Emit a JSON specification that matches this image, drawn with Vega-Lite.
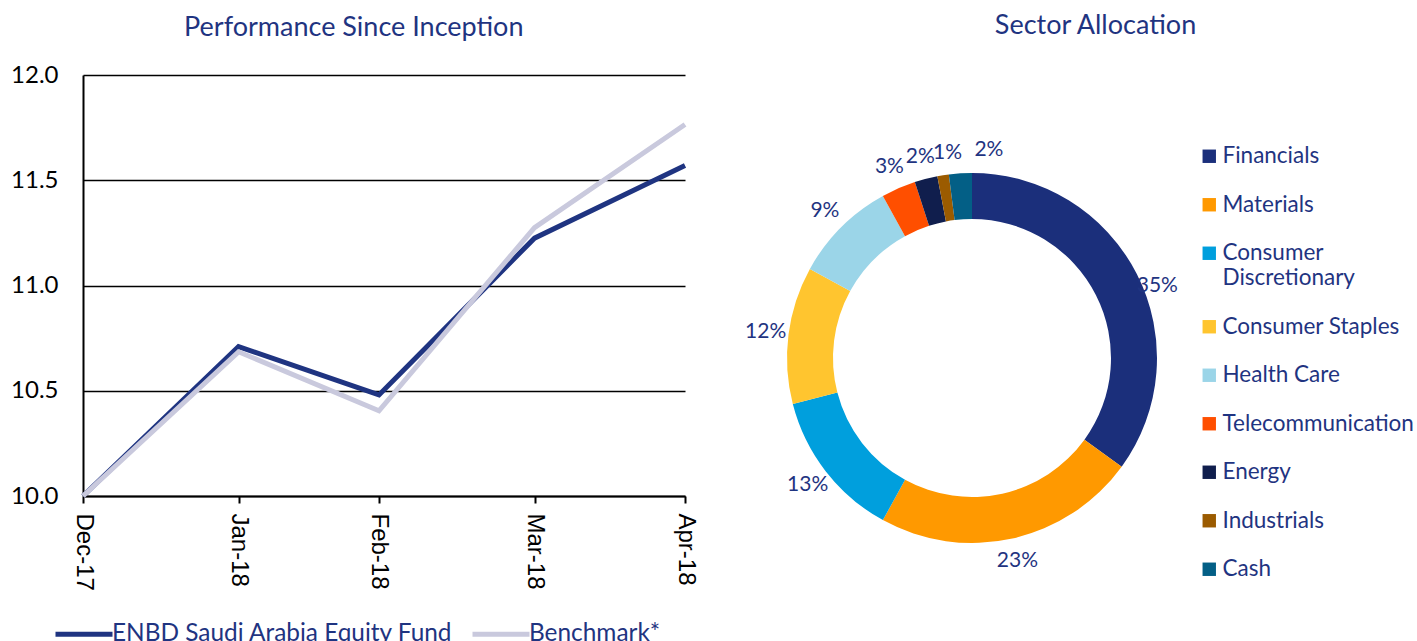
{
  "$schema": "https://vega.github.io/schema/vega-lite/v6.json",
  "background": "white",
  "padding": {"left": 10, "top": 12, "right": 0, "bottom": 0},
  "autosize": {"type": "pad"},
  "bounds": "flush",
  "spacing": 102,
  "config": {
    "font": "Lato",
    "view": {"stroke": null},
    "title": {"font": "Lato", "fontSize": 27, "fontWeight": "normal", "color": "#1F3481"}
  },
  "datasets": {
    "perf": [
      {"date": "2017-12-31", "series": "ENBD Saudi Arabia Equity Fund", "value": 10.0},
      {"date": "2018-01-31", "series": "ENBD Saudi Arabia Equity Fund", "value": 10.71},
      {"date": "2018-02-28", "series": "ENBD Saudi Arabia Equity Fund", "value": 10.48},
      {"date": "2018-03-31", "series": "ENBD Saudi Arabia Equity Fund", "value": 11.225},
      {"date": "2018-04-30", "series": "ENBD Saudi Arabia Equity Fund", "value": 11.57},
      {"date": "2017-12-31", "series": "Benchmark*", "value": 10.0},
      {"date": "2018-01-31", "series": "Benchmark*", "value": 10.685},
      {"date": "2018-02-28", "series": "Benchmark*", "value": 10.405},
      {"date": "2018-03-31", "series": "Benchmark*", "value": 11.275},
      {"date": "2018-04-30", "series": "Benchmark*", "value": 11.765}
    ],
    "sectors": [
      {"sector": "Financials", "pct": 0.35, "order": 1},
      {"sector": "Materials", "pct": 0.23, "order": 2},
      {"sector": "Consumer Discretionary", "pct": 0.13, "order": 3},
      {"sector": "Consumer Staples", "pct": 0.12, "order": 4},
      {"sector": "Health Care", "pct": 0.09, "order": 5},
      {"sector": "Telecommunication", "pct": 0.03, "order": 6},
      {"sector": "Energy", "pct": 0.02, "order": 7},
      {"sector": "Industrials", "pct": 0.01, "order": 8},
      {"sector": "Cash", "pct": 0.02, "order": 9}
    ]
  },
  "resolve": {"scale": {"color": "independent"}, "legend": {"color": "independent"}},
  "hconcat": [
    {
      "title": {"text": "Performance Since Inception", "frame": "bounds", "anchor": "middle", "offset": 21, "dx": 0},
      "width": 602,
      "height": 421,
      "data": {"name": "perf"},
      "mark": {"type": "line", "strokeWidth": 5, "strokeJoin": "miter"},
      "encoding": {
        "x": {
          "field": "date", "type": "temporal",
          "scale": {"type": "utc", "nice": false},
          "axis": {
            "title": null,
            "values": [
              {"year": 2017, "month": 12, "date": 31, "utc": true},
              {"year": 2018, "month": 1, "date": 31, "utc": true},
              {"year": 2018, "month": 2, "date": 28, "utc": true},
              {"year": 2018, "month": 3, "date": 31, "utc": true},
              {"year": 2018, "month": 4, "date": 30, "utc": true}
            ],
            "labelExpr": "utcFormat(datum.value, '%b-%y')",
            "labelAngle": 90, "labelFont": "Liberation Sans", "labelFontSize": 24, "labelColor": "black",
            "tickColor": "black", "tickSize": 7, "tickWidth": 2,
            "domainColor": "black", "domainWidth": 2, "grid": false, "labelPadding": 10
          }
        },
        "y": {
          "field": "value", "type": "quantitative",
          "scale": {"domain": [10, 12], "nice": false, "zero": false},
          "axis": {
            "title": null, "values": [10, 10.5, 11, 11.5, 12], "format": ".1f",
            "labelFontSize": 24, "labelColor": "black", "ticks": false,
            "domainColor": "black", "domainWidth": 2,
            "gridColor": "black", "gridWidth": 1.5, "labelPadding": 25
          }
        },
        "color": {
          "field": "series", "type": "nominal",
          "scale": {"domain": ["ENBD Saudi Arabia Equity Fund", "Benchmark*"], "range": ["#1F3481", "#C9C9DD"]},
          "legend": {
            "orient": "none", "legendX": -30, "legendY": 528, "direction": "horizontal", "title": null,
            "symbolType": "stroke", "symbolSize": 3249, "symbolStrokeWidth": 5,
            "labelFontSize": 24.4, "labelColor": "#1F3481", "labelOffset": -3, "columnPadding": 9, "labelLimit": 500
          }
        }
      }
    },
    {
      "title": {"text": "Sector Allocation", "frame": "bounds", "anchor": "middle", "offset": 35, "dx": 16},
      "width": 370,
      "height": 566,
      "data": {"name": "sectors"},
      "encoding": {
        "theta": {"field": "pct", "type": "quantitative", "stack": true},
        "order": {"field": "order", "type": "quantitative"}
      },
      "layer": [
        {
          "mark": {"type": "arc", "outerRadius": 185, "innerRadius": 139},
          "encoding": {
            "color": {
              "field": "sector", "type": "nominal",
              "scale": {
                "domain": ["Financials", "Materials", "Consumer Discretionary", "Consumer Staples", "Health Care", "Telecommunication", "Energy", "Industrials", "Cash"],
                "range": ["#1B2F7B", "#FF9900", "#009FDD", "#FFC52F", "#9BD5E8", "#FF4F00", "#101E4D", "#9B5B00", "#035F86"]
              },
              "legend": {
                "orient": "none", "legendX": 411, "legendY": 70, "title": null,
                "symbolType": "square", "symbolSize": 180, "symbolStrokeWidth": 0,
                "labelFontSize": 22.5, "labelColor": "#1F3481", "labelOffset": 2, "rowPadding": 25.5, "labelLimit": 300,
                "labelExpr": "datum.label == 'Consumer Discretionary' ? ['Consumer', 'Discretionary'] : datum.label"
              }
            }
          }
        },
        {
          "mark": {
            "type": "text", "radius": 208, "fontSize": 21, "color": "#1F3481",
            "dx": {"expr": "datum.sector == 'Cash' ? 30 : datum.sector == 'Industrials' ? 8 : 0"},
            "dy": {"expr": "datum.sector == 'Financials' ? 22 : 0"}
          },
          "encoding": {"text": {"field": "pct", "type": "quantitative", "format": ".0%"}}
        }
      ]
    }
  ]
}
